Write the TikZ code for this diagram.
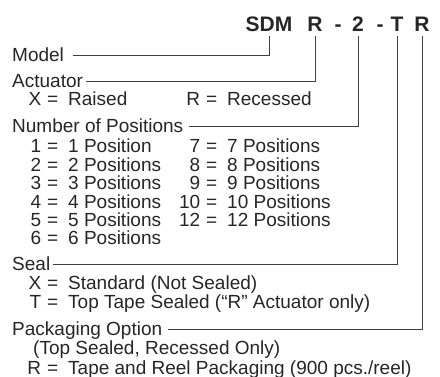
\documentclass[tikz,border=0pt]{standalone}
\usepackage{fontspec}
\setmainfont{Liberation Sans}
\usepackage{tikz}
\usetikzlibrary{positioning}

% code right-aligned in front of the "=", text after it
\newcommand{\codeeq}[2]{\llap{#1}\makebox[27pt][l]{\hspace{6pt}=}#2}

\begin{document}
\begin{tikzpicture}[
  x=1pt, y=-1pt,
  code/.style={font=\fontsize{21}{25}\selectfont\bfseries, anchor=base, inner xsep=0pt, inner ysep=3.5pt, text=black!85},
  lbl/.style={font=\fontsize{19}{23}\selectfont, anchor=base west, inner xsep=3pt, inner ysep=0pt, text height=12.5pt, text depth=0pt, text=black!85},
  opt/.style={font=\fontsize{19}{23}\selectfont, anchor=base west, inner sep=0pt, text=black!85},
  conn/.style={draw=black!75, line width=0.7pt},
]
\useasboundingbox (0,0) rectangle (440,377);

% part number
\node[code] (sdm) at (269,32) {SDM};
\node[code] (act) at (315,32) {R};
\node[code] (dash1) at (338,32) {-};
\node[code] (pos) at (358,32) {2};
\node[code] (dash2) at (380,32) {-};
\node[code] (seal) at (397,32) {T};
\node[code] (pack) at (422,32) {R};

% model / actuator
\node[lbl] (model) at (9,62) {Model};
\node[lbl] (actuator) at (9,88) {Actuator};
\node[opt] (actx) at (41,106) {\codeeq{X}{Raised}};
\node[opt] (actr) at (200,106) {\codeeq{R}{Recessed}};

% positions
\node[lbl] (positions) at (9,133) {Number of Positions};
\foreach \n/\txt [count=\i from 0] in {1/Position, 2/Positions, 3/Positions, 4/Positions, 5/Positions, 6/Positions}
  \node[opt] (posl\n) at (41,153+18.4*\i) {\codeeq{\n}{\n\ \txt}};
\foreach \n [count=\i from 0] in {7, 8, 9, 10, 12}
  \node[opt] (posr\n) at (200,153+18.4*\i) {\codeeq{\n}{\n\ Positions}};

% seal
\node[lbl] (seallbl) at (9,271) {Seal};
\node[opt] (sealx) at (41,290) {\codeeq{X}{Standard (Not Sealed)}};
\node[opt] (sealt) at (41,309) {\codeeq{T}{Top Tape Sealed (“R” Actuator only)}};

% packaging
\node[lbl] (packlbl) at (9,336) {Packaging Option};
\node[opt] (packnote) at (33,355) {(Top Sealed, Recessed Only)};
\node[opt] (packr) at (41,374) {\codeeq{R}{Tape and Reel Packaging (900 pcs./reel)}};

\draw[conn] ([xshift=6pt]model.east) -| (sdm.south);
\draw[conn] (actuator.east) -| (act.south);
\draw[conn] ([xshift=3pt]positions.east) -| (pos.south);
\draw[conn] (seallbl.east) -| (seal.south);
\draw[conn] ([xshift=3pt]packlbl.east) -| (pack.south);
\end{tikzpicture}
\end{document}
